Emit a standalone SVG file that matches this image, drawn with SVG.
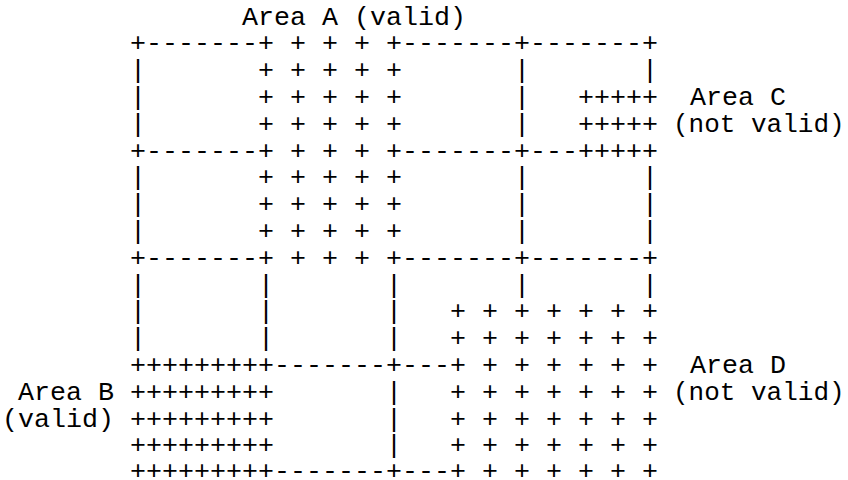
<svg xmlns="http://www.w3.org/2000/svg" width="848" height="480" viewBox="0 0 848 480">
<style>
text{font-family:"Liberation Mono","DejaVu Sans Mono",monospace;font-size:26.667px;fill:#000;white-space:pre}
text.nv{font-size:26px}
</style>
<rect width="848" height="480" fill="#fff"/>
<g id="grid">
<text x="130" y="51.3">+-------+ + + + +-------+-------+</text>
<text x="130" y="78.1">|       + + + + +       |       |</text>
<text x="130" y="104.9">|       + + + + +       |   +++++</text>
<text x="130" y="131.7">|       + + + + +       |   +++++</text>
<text x="130" y="158.5">+-------+ + + + +-------+---+++++</text>
<text x="130" y="185.3">|       + + + + +       |       |</text>
<text x="130" y="212.1">|       + + + + +       |       |</text>
<text x="130" y="238.9">|       + + + + +       |       |</text>
<text x="130" y="265.7">+-------+ + + + +-------+-------+</text>
<text x="130" y="292.5">|       |       |       |       |</text>
<text x="130" y="319.3">|       |       |   + + + + + + +</text>
<text x="130" y="346.1">|       |       |   + + + + + + +</text>
<text x="130" y="372.9">+++++++++-------+---+ + + + + + +</text>
<text x="130" y="399.7">+++++++++       |   + + + + + + +</text>
<text x="130" y="426.5">+++++++++       |   + + + + + + +</text>
<text x="130" y="453.3">+++++++++       |   + + + + + + +</text>
<text x="130" y="479">+++++++++-------+---+ + + + + + +</text>
</g>
<g id="labels">
<text id="areaA" x="242" y="24.5">Area A (valid)</text>
<text id="areaC1" x="690" y="104.9">Area C</text>
<text id="areaC2" class="nv" x="673" y="131.7">(not valid)</text>
<text id="areaD1" x="690" y="372.9">Area D</text>
<text id="areaD2" class="nv" x="673" y="399.7">(not valid)</text>
<text id="areaB1" x="18" y="399.7">Area B</text>
<text id="areaB2" x="2" y="426.5">(valid)</text>
</g>
</svg>
